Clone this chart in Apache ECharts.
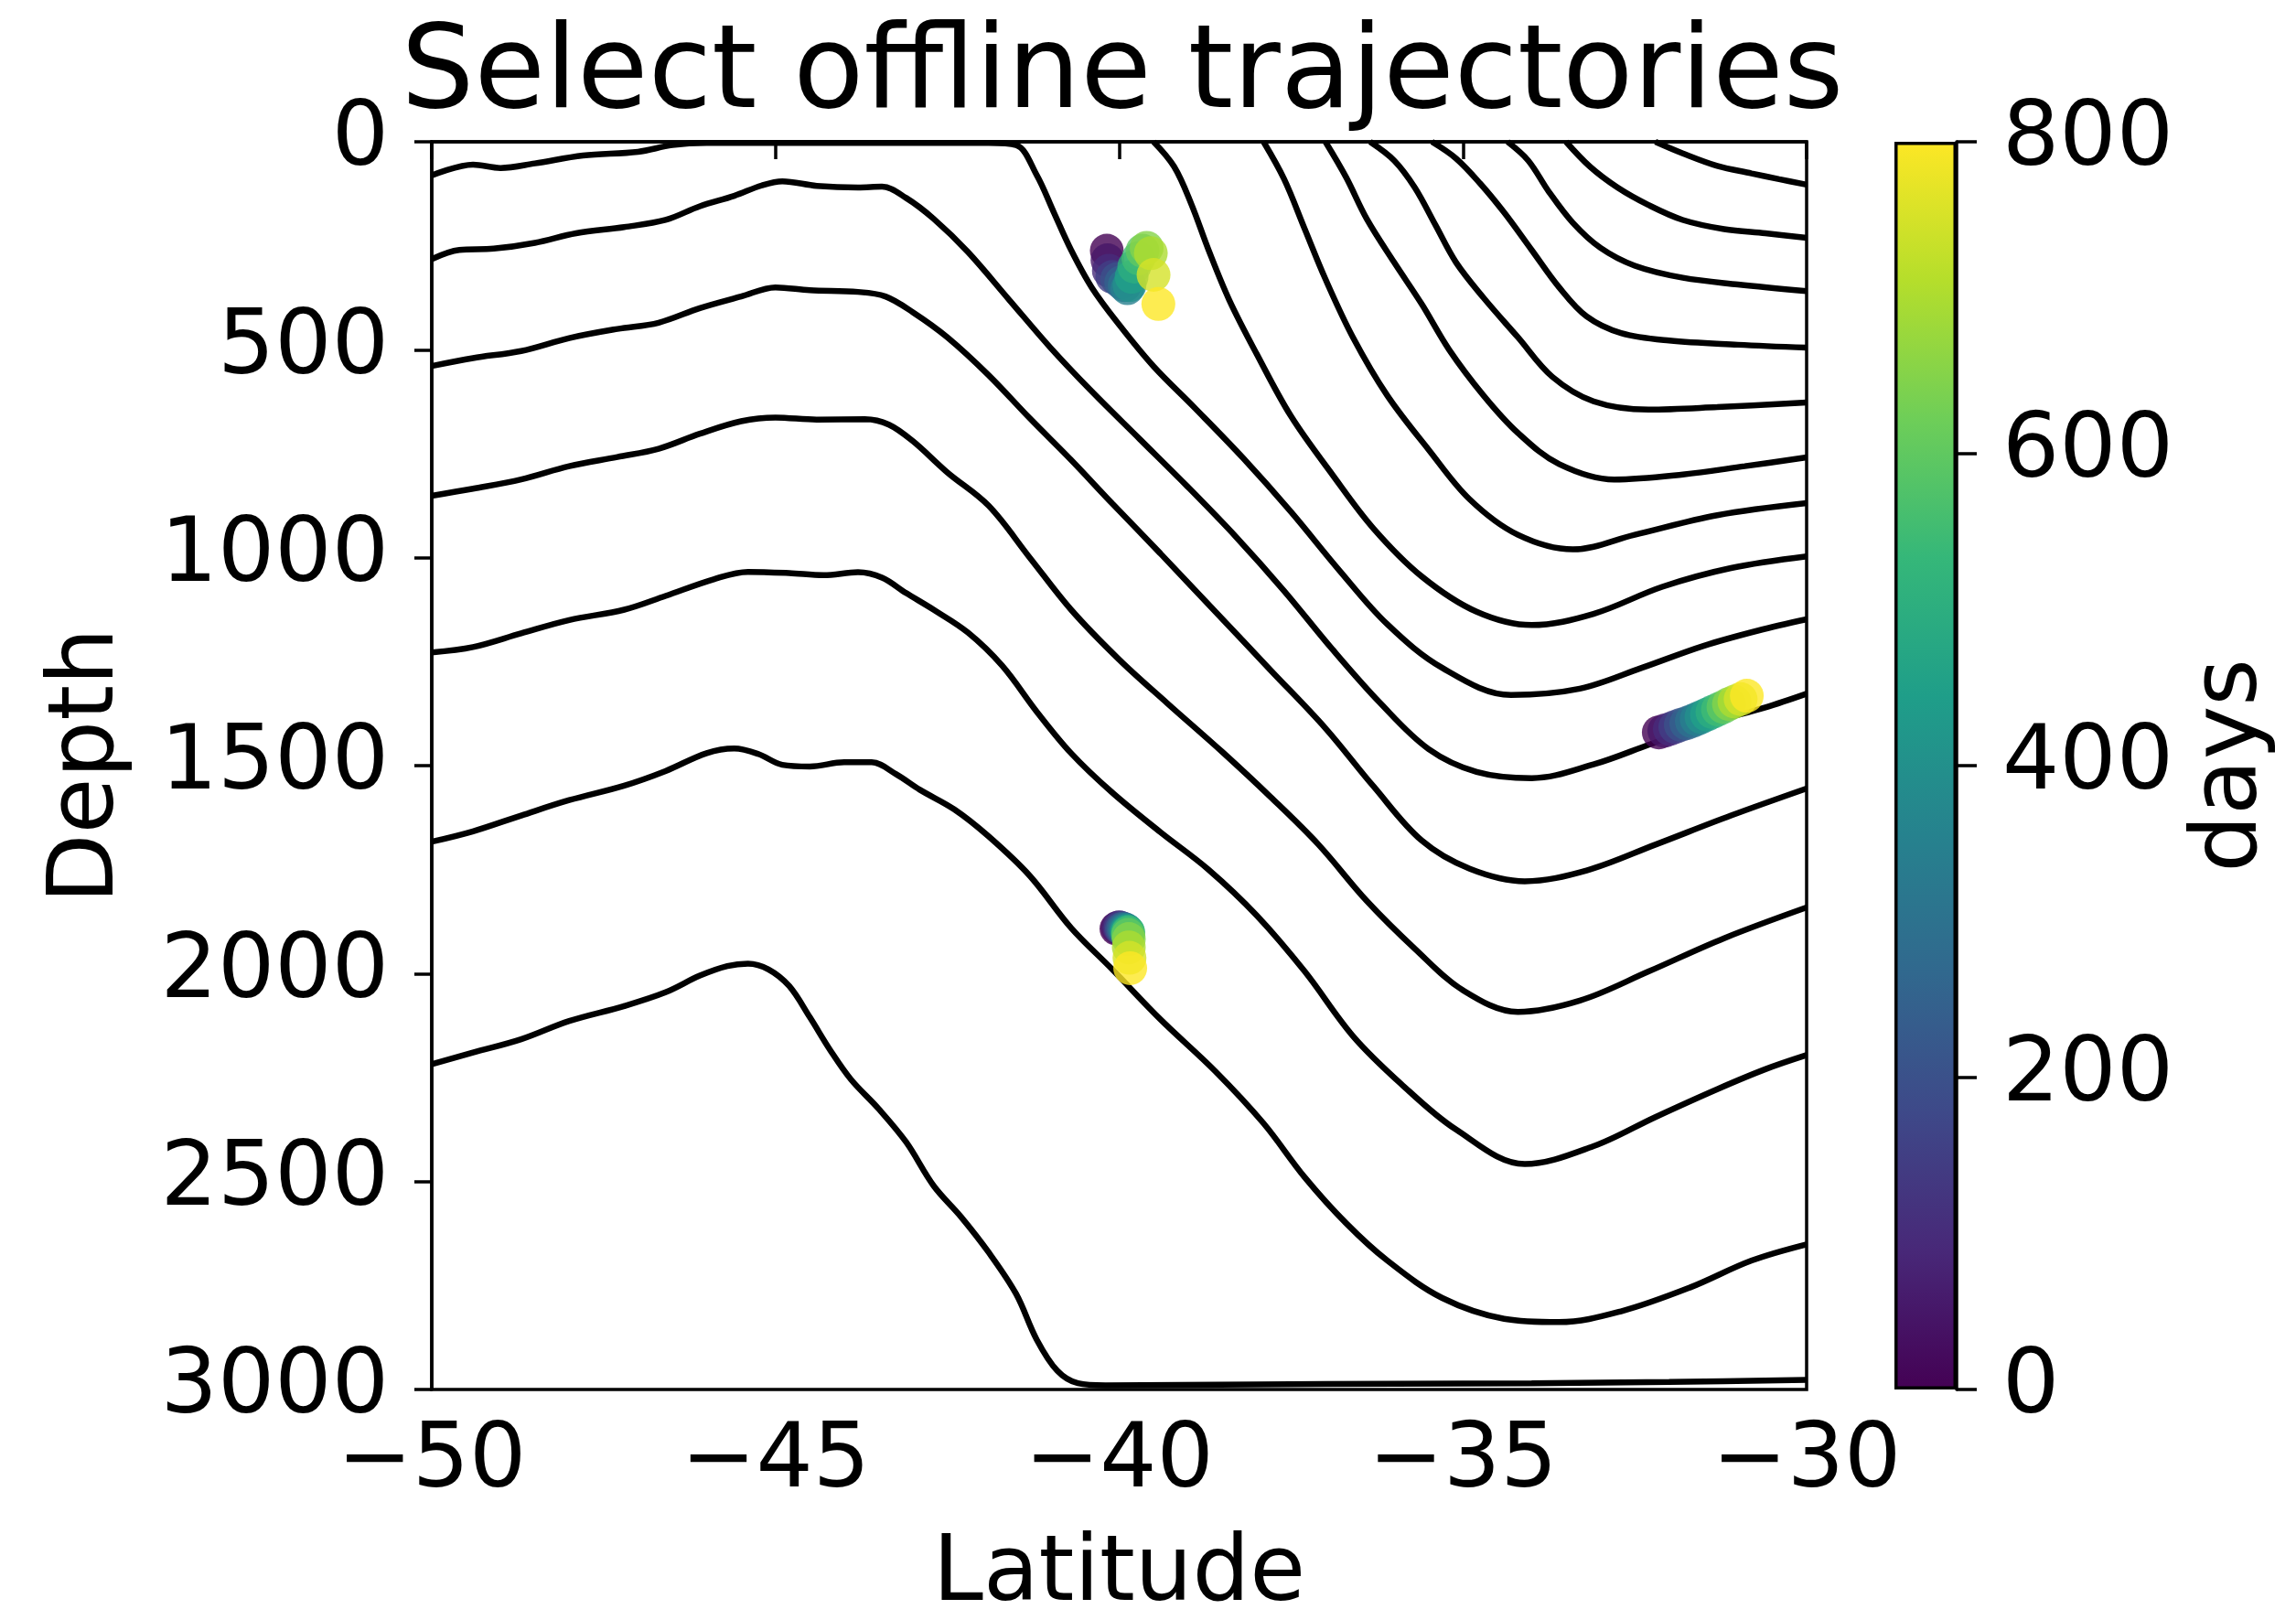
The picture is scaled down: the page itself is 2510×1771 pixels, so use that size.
<!DOCTYPE html>
<html>
<head>
<meta charset="utf-8">
<script src="https://cdn.jsdelivr.net/npm/echarts@6/dist/echarts.min.js"></script>
<style>
html, body { margin: 0; padding: 0; background: #fff; }
#chart { width: 2510px; height: 1771px; }
</style>
</head>
<body>
<div id="chart"></div>
<script>
// Isopycnal contours, each as [latitude, depth] pairs
const contourA = [[-50,81],[-49.4,55],[-49.0,63],[-48.5,52],[-47.8,33],[-47.0,24],[-46.5,8],[-46.0,3],[-44.5,3],[-43,3],[-41.9,3],[-41.5,8],[-41.2,80],[-40.95,170],[-40.7,260],[-40.4,350],[-40.0,440],[-39.5,540],[-38.9,640],[-38.2,760],[-37.5,890],[-36.8,1030],[-36.1,1160],[-35.3,1265],[-34.3,1330],[-33.3,1315],[-32.4,1265],[-31.5,1212],[-30.7,1175],[-30,1148]];
const contourB = [[-50,282],[-49.6,260],[-49.1,257],[-48.5,243],[-47.9,220],[-47.2,205],[-46.6,188],[-46.1,155],[-45.6,130],[-45.2,105],[-44.9,95],[-44.4,106],[-43.8,110],[-43.45,108],[-43.1,135],[-42.7,185],[-42.2,265],[-41.6,380],[-41.0,495],[-40.4,600],[-39.7,715],[-39.0,830],[-38.3,950],[-37.6,1080],[-36.9,1220],[-36.2,1350],[-35.5,1460],[-34.8,1515],[-34.0,1530],[-33.1,1497],[-32.3,1450],[-31.4,1397],[-30.6,1360],[-30,1327]];
const contourC = [[-50,539],[-49.4,520],[-48.7,503],[-48.0,472],[-47.3,450],[-46.7,435],[-46.1,400],[-45.5,372],[-45.0,350],[-44.5,357],[-43.8,361],[-43.4,372],[-43.0,410],[-42.5,470],[-41.9,561],[-41.3,665],[-40.7,765],[-40.1,870],[-39.4,990],[-38.6,1130],[-37.8,1270],[-37.0,1410],[-36.3,1550],[-35.6,1680],[-34.9,1748],[-34.1,1778],[-33.2,1752],[-32.2,1690],[-31.1,1620],[-30,1555]];
const contourD = [[-50,851],[-49.4,834],[-48.7,812],[-48.0,780],[-47.3,758],[-46.7,738],[-46.1,702],[-45.5,672],[-45.0,663],[-44.4,668],[-43.7,667],[-43.35,680],[-43.0,720],[-42.5,795],[-41.9,875],[-41.3,1000],[-40.7,1125],[-40.0,1245],[-39.3,1350],[-38.5,1467],[-37.8,1575],[-37.1,1690],[-36.4,1825],[-35.7,1940],[-35.0,2040],[-34.2,2092],[-33.3,2065],[-32.3,1995],[-31.2,1915],[-30,1841]];
const contourE = [[-50,1228],[-49.4,1215],[-48.7,1182],[-48.0,1150],[-47.2,1125],[-46.6,1092],[-45.9,1052],[-45.4,1034],[-44.8,1037],[-44.3,1042],[-43.8,1035],[-43.45,1048],[-43.1,1085],[-42.7,1125],[-42.2,1180],[-41.7,1260],[-41.2,1370],[-40.7,1470],[-40.1,1565],[-39.4,1660],[-38.7,1750],[-38.0,1860],[-37.3,1995],[-36.6,2150],[-35.9,2265],[-35.1,2375],[-34.1,2458],[-33.1,2415],[-32.2,2345],[-31.3,2278],[-30.6,2230],[-30,2196]];
const contourF = [[-50,1683],[-49.4,1658],[-48.7,1620],[-48.0,1583],[-47.2,1548],[-46.6,1513],[-46.0,1470],[-45.6,1459],[-45.25,1472],[-44.9,1498],[-44.5,1502],[-44.0,1492],[-43.6,1492],[-43.25,1520],[-42.9,1558],[-42.4,1605],[-41.9,1670],[-41.3,1765],[-40.7,1890],[-40.1,1990],[-39.4,2110],[-38.6,2235],[-37.9,2360],[-37.3,2490],[-36.7,2600],[-36.1,2690],[-35.3,2780],[-34.4,2830],[-33.6,2838],[-32.7,2812],[-31.7,2755],[-30.8,2690],[-30,2651]];
const contourG = [[-50,2218],[-49.4,2190],[-48.7,2158],[-48.0,2114],[-47.2,2078],[-46.6,2045],[-46.1,2005],[-45.7,1982],[-45.4,1976],[-45.1,1990],[-44.8,2030],[-44.5,2105],[-44.2,2185],[-43.9,2255],[-43.5,2325],[-43.1,2405],[-42.7,2510],[-42.3,2585],[-41.9,2670],[-41.5,2770],[-41.2,2880],[-40.9,2955],[-40.6,2985],[-40.2,2990],[-38,2988],[-36,2986],[-34,2985],[-32,2982],[-30,2977]];
const contourT2 = [[-39.5,0],[-39.2,60],[-38.95,150],[-38.7,260],[-38.4,380],[-38.0,510],[-37.5,660],[-36.9,800],[-36.3,930],[-35.6,1045],[-34.8,1130],[-34.0,1162],[-33.1,1135],[-32.1,1070],[-31.1,1025],[-30,997]];
const contourT3 = [[-37.9,0],[-37.6,90],[-37.3,210],[-37.0,330],[-36.6,470],[-36.1,610],[-35.5,740],[-34.9,860],[-34.2,945],[-33.4,980],[-32.5,945],[-31.3,898],[-30,869]];
const contourT4 = [[-37.0,0],[-36.7,85],[-36.4,185],[-36.0,290],[-35.6,390],[-35.2,500],[-34.7,610],[-34.2,700],[-33.6,775],[-32.8,812],[-31.8,800],[-30.9,780],[-30,759]];
const contourT5 = [[-36.35,0],[-36.0,45],[-35.7,110],[-35.4,200],[-35.1,290],[-34.7,375],[-34.2,470],[-33.7,565],[-33.1,624],[-32.3,644],[-31.3,638],[-30,627]];
const contourT6 = [[-35.45,0],[-35.1,40],[-34.75,100],[-34.4,170],[-34.0,260],[-33.6,350],[-33.2,420],[-32.7,460],[-32.0,478],[-31.0,488],[-30,495]];
const contourT7 = [[-34.35,0],[-34.05,45],[-33.75,120],[-33.4,195],[-33.0,255],[-32.5,298],[-31.8,327],[-31.0,343],[-30,359]];
const contourT8 = [[-33.5,0],[-33.15,60],[-32.75,110],[-32.3,152],[-31.8,188],[-31.2,210],[-30.6,220],[-30,231]];
const contourT9 = [[-32.2,0],[-31.8,28],[-31.3,58],[-30.8,76],[-30.4,90],[-30,103]];

const contours = [contourA, contourB, contourC, contourD, contourE, contourF, contourG,
                  contourT2, contourT3, contourT4, contourT5, contourT6, contourT7, contourT8, contourT9];

// Particle tracks: [latitude, depth, day]
const trackUpper = [[-40.18,262,0],[-40.17,285,50],[-40.15,310,100],[-40.10,325,150],[-40.03,330,200],[-39.97,338,250],[-39.92,345,300],[-39.88,352,350],[-39.85,345,400],[-39.82,325,450],[-39.78,300,500],[-39.72,280,550],[-39.66,262,600],[-39.60,255,650],[-39.54,268,700],[-39.50,320,750],[-39.43,390,800]];
const trackMiddle = [[-40.04,1892,0],[-40.02,1890,50],[-40.00,1889,100],[-39.98,1890,150],[-39.96,1892,200],[-39.94,1892,250],[-39.92,1894,300],[-39.90,1895,350],[-39.89,1897,400],[-39.88,1899,450],[-39.87,1900,500],[-39.87,1902,550],[-39.87,1907,600],[-39.86,1917,650],[-39.86,1937,700],[-39.85,1962,750],[-39.84,1987,800]];
const trackRight = [[-32.15,1420,0],[-32.07,1416,50],[-31.99,1412,100],[-31.91,1407,150],[-31.83,1402,200],[-31.75,1398,250],[-31.67,1393,300],[-31.60,1388,350],[-31.53,1383,400],[-31.45,1377,450],[-31.37,1371,500],[-31.29,1365,550],[-31.21,1359,600],[-31.13,1352,650],[-31.05,1346,700],[-30.96,1340,750],[-30.87,1332,800]];
const tracks = [trackUpper, trackMiddle, trackRight];

// Axis ranges
const latRange = [-50, -30];
const depthRange = [0, 3000];
const dayRange = [0, 800];

const viridis = ['#440154','#482878','#3e4989','#31688e','#26828e','#1f9e89','#35b779','#6ece58','#b5de2b','#fde725'];

const FONT = 'DejaVu Sans';
const minus = v => String(v).replace('-', '\u2212');
const plain = v => String(v);

const chart = echarts.init(document.getElementById('chart'), null, { renderer: 'canvas' });

const contourSeries = contours.map(c => ({
  type: 'line', data: c, xAxisIndex: 0, yAxisIndex: 0,
  symbol: 'none', showSymbol: false, smooth: 0.35, clip: true, silent: true, z: 2,
  lineStyle: { color: '#000', width: 6.5 }
}));
const trackSeries = tracks.map(t => ({
  type: 'scatter', data: t, xAxisIndex: 0, yAxisIndex: 0,
  symbol: 'circle', symbolSize: 37, silent: true, z: 3
}));

const nC = contourSeries.length;
const barStops = viridis.slice().reverse().map((c, i, a) => ({ offset: i / (a.length - 1), color: c }));

const tickLabel = { fontFamily: FONT, fontSize: 98, color: '#000' };

const option = {
  animation: false,
  backgroundColor: '#fff',
  title: {
    text: 'Select offline trajectories', left: 1222, top: 16, textAlign: 'center',
    textStyle: { fontFamily: FONT, fontSize: 126, fontWeight: 'normal', color: '#000' }
  },
  grid: [
    { left: 472, top: 155, width: 1503, height: 1364, containLabel: false, outerBoundsMode: 'none',
      show: true, borderColor: '#000', borderWidth: 3.5, backgroundColor: 'rgba(0,0,0,0)' },
    { left: 2071, top: 155, width: 68, height: 1364, containLabel: false, outerBoundsMode: 'none' }
  ],
  xAxis: [
    {
      type: 'value', gridIndex: 0, min: latRange[0], max: latRange[1], interval: 5,
      name: 'Latitude', nameLocation: 'middle', nameGap: 155, nameMoveOverlap: false,
      nameTextStyle: { fontFamily: FONT, fontSize: 99, color: '#000' },
      axisLine: { show: true, lineStyle: { color: '#000', width: 3.5 } },
      axisTick: { show: true, length: 19, lineStyle: { color: '#000', width: 3.5 } },
      axisLabel: Object.assign({ margin: 32, formatter: minus }, tickLabel),
      splitLine: { show: false }
    },
    { type: 'category', gridIndex: 1, data: ['days'], show: false }
  ],
  yAxis: [
    {
      type: 'value', gridIndex: 0, min: depthRange[0], max: depthRange[1], interval: 500, inverse: true,
      name: 'Depth', nameLocation: 'middle', nameGap: 325, nameRotate: 90, nameMoveOverlap: false,
      nameTextStyle: { fontFamily: FONT, fontSize: 99, color: '#000' },
      axisLine: { show: true, lineStyle: { color: '#000', width: 3.5 } },
      axisTick: { show: true, length: 19, lineStyle: { color: '#000', width: 3.5 } },
      axisLabel: Object.assign({ margin: 47, formatter: plain, padding: [12, 0, 0, 0] }, tickLabel),
      splitLine: { show: false }
    },
    {
      type: 'value', gridIndex: 1, position: 'right', min: dayRange[0], max: dayRange[1], interval: 200,
      name: 'days', nameLocation: 'middle', nameGap: 252, nameRotate: 90, nameMoveOverlap: false,
      nameTextStyle: { fontFamily: FONT, fontSize: 99, color: '#000' },
      axisLine: { show: true, lineStyle: { color: '#000', width: 3.5 } },
      axisTick: { show: true, length: 22, lineStyle: { color: '#000', width: 3.5 } },
      axisLabel: Object.assign({ margin: 50, formatter: plain, padding: [12, 0, 0, 0] }, tickLabel),
      splitLine: { show: false }
    }
  ],
  visualMap: {
    show: false, type: 'continuous', min: dayRange[0], max: dayRange[1], dimension: 2,
    seriesIndex: [nC, nC + 1, nC + 2], inRange: { color: viridis }
  },
  series: [
    ...contourSeries,
    ...trackSeries,
    {
      type: 'bar', xAxisIndex: 1, yAxisIndex: 1, data: [dayRange[1]], barWidth: '100%', silent: true,
      itemStyle: { color: new echarts.graphic.LinearGradient(0, 0, 0, 1, barStops), borderColor: '#000', borderWidth: 3.5 }
    }
  ]
};
chart.setOption(option);
</script>
</body>
</html>
